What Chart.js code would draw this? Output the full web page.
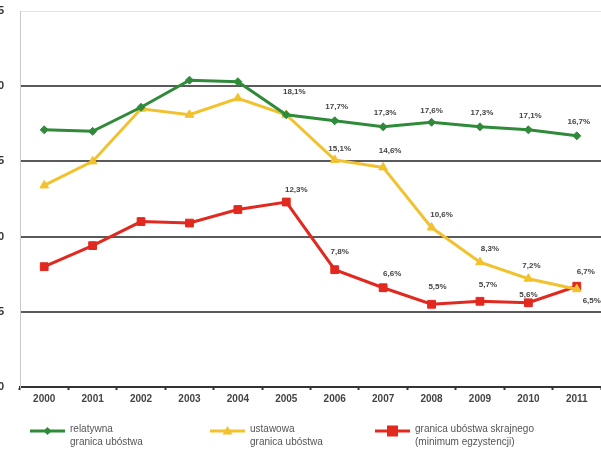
<!DOCTYPE html>
<html><head><meta charset="utf-8">
<script src="https://cdn.jsdelivr.net/npm/chart.js@4.4.0/dist/chart.umd.min.js"></script>
<style>html,body{margin:0;padding:0;background:#fff;overflow:hidden}#wrap{position:relative;width:601px;height:449px}</style>
</head><body><div id="wrap"><canvas id="c" width="601" height="449"></canvas></div>
<script>
const years = ['2000','2001','2002','2003','2004','2005','2006','2007','2008','2009','2010','2011'];
const relatywna = [17.1, 17.0, 18.6, 20.4, 20.3, 18.1, 17.7, 17.3, 17.6, 17.3, 17.1, 16.7];
const ustawowa  = [13.4, 15.0, 18.5, 18.1, 19.2, 18.1, 15.1, 14.6, 10.6, 8.3, 7.2, 6.5];
const skrajna   = [8.0, 9.4, 11.0, 10.9, 11.8, 12.3, 7.8, 6.6, 5.5, 5.7, 5.6, 6.7];
const yTicks = [0, 5, 10, 15, 20, 25];
const seriesNames = [
  ['relatywna', 'granica ubóstwa'],
  ['ustawowa', 'granica ubóstwa'],
  ['granica ubóstwa skrajnego', '(minimum egzystencji)']
];
const labelFrom = [5, 6, 5];

const GREEN = '#2f8a3a', YELLOW = '#f2c12e', RED = '#e2291f';

const labelPlugin = {
  id: 'vals',
  afterDatasetsDraw(chart, args, opts) {
    const ctx = chart.ctx;
    ctx.save();
    ctx.font = 'bold 8px "Liberation Sans", Arial, sans-serif';
    ctx.fillStyle = '#444';
    ctx.textAlign = 'center';
    ctx.textBaseline = 'middle';
    chart.data.datasets.forEach((ds, di) => {
      const meta = chart.getDatasetMeta(di);
      const offs = opts.offsets[di];
      for (let i = labelFrom[di]; i < ds.data.length; i++) {
        const p = meta.data[i];
        const o = offs[i] || offs.def;
        ctx.fillText(ds.data[i].toFixed(1).replace('.', ',') + '%', p.x + o[0], p.y + o[1]);
      }
    });
    ctx.restore();
  }
};

const legendPlugin = {
  id: 'customLegend',
  afterDraw(chart, args, opts) {
    const ctx = chart.ctx;
    ctx.save();
    chart.data.datasets.forEach((ds, di) => {
      const x0 = opts.xs[di], y = opts.y;
      ctx.strokeStyle = ds.borderColor;
      ctx.lineWidth = 3;
      ctx.beginPath(); ctx.moveTo(x0, y); ctx.lineTo(x0 + opts.len, y); ctx.stroke();
      ctx.fillStyle = ds.borderColor;
      ctx.beginPath();
      const r = ds.pointRadius;
      const cx = x0 + opts.len / 2;
      if (ds.pointStyle === 'rect') { ctx.fillRect(cx - r, y - r, 2*r, 2*r); }
      else if (ds.pointStyle === 'triangle') { ctx.moveTo(cx, y - r); ctx.lineTo(cx + r, y + r*0.7); ctx.lineTo(cx - r, y + r*0.7); ctx.closePath(); ctx.fill(); }
      else { ctx.moveTo(cx, y - r); ctx.lineTo(cx + r, y); ctx.lineTo(cx, y + r); ctx.lineTo(cx - r, y); ctx.closePath(); ctx.fill(); }
      ctx.fillStyle = '#555';
      ctx.font = '10px "Liberation Sans", Arial, sans-serif';
      ctx.textAlign = 'left';
      ctx.textBaseline = 'middle';
      ds.label.forEach((line, li) => ctx.fillText(line, x0 + opts.len + 5, y - 2 + li * 13));
    });
    ctx.restore();
  }
};

new Chart(document.getElementById('c'), {
  type: 'line',
  data: {
    labels: years,
    datasets: [
      {label: seriesNames[0], data: relatywna, borderColor: GREEN, backgroundColor: GREEN, borderWidth: 3, pointStyle: 'rectRot', pointRadius: 4, pointBorderWidth: 1},
      {label: seriesNames[1], data: ustawowa, borderColor: YELLOW, backgroundColor: YELLOW, borderWidth: 3, pointStyle: 'triangle', pointRadius: 5, pointBorderWidth: 1},
      {label: seriesNames[2], data: skrajna, borderColor: RED, backgroundColor: RED, borderWidth: 3, pointStyle: 'rect', pointRadius: 5.5, pointBorderWidth: 1}
    ]
  },
  options: {
    responsive: false,
    animation: false,
    layout: {autoPadding: false, padding: {top: 11, right: 0, left: 0, bottom: 0}},
    plugins: {
      legend: {display: false},
      tooltip: {enabled: false},
      vals: {offsets: [
        {def: [2, -14], 5: [8, -23], 8: [0, -11]},
        {def: [7, -13], 6: [5, -11], 7: [7, -17], 8: [10, -13], 9: [10, -13], 10: [3, -13], 11: [15, 12]},
        {def: [8, -15], 5: [10, -12], 6: [5, -18], 7: [9, -14], 8: [6, -17], 9: [8, -16], 10: [0, -8], 11: [9, -14]}
      ]},
      customLegend: {xs: [30, 210, 375], y: 431, len: 35}
    },
    scales: {
      x: {
        offset: true,
        grid: {offset: true, drawOnChartArea: false, drawTicks: true, tickLength: 3, tickColor: '#333', tickWidth: 2},
        border: {color: '#333', width: 2},
        ticks: {color: '#444', font: {size: 10, family: '"Liberation Sans", Arial, sans-serif', weight: 'bold'}, padding: 3, maxRotation: 0, autoSkip: false},
        afterFit: s => { s.height = 62; s.paddingLeft = 0; s.paddingRight = 0; }
      },
      y: {
        min: 0, max: 25,
        afterBuildTicks: s => { s.ticks = yTicks.map(v => ({value: v})); },
        grid: {
          color: c => c.tick.value === 0 ? 'rgba(0,0,0,0)' : (c.tick.value === 25 ? '#e4e4e4' : '#5a5a5a'),
          lineWidth: c => c.tick.value === 25 ? 1 : 2,
          drawTicks: false
        },
        border: {color: '#c8c8c8', width: 1},
        ticks: {padding: 16, color: '#333', font: {size: 11, weight: 'bold', family: '"Liberation Sans", Arial, sans-serif'}},
        afterFit: s => { s.width = 20; s.paddingTop = 0; s.paddingBottom = 0; }
      }
    }
  },
  plugins: [labelPlugin, legendPlugin]
});
</script>
</body></html>
